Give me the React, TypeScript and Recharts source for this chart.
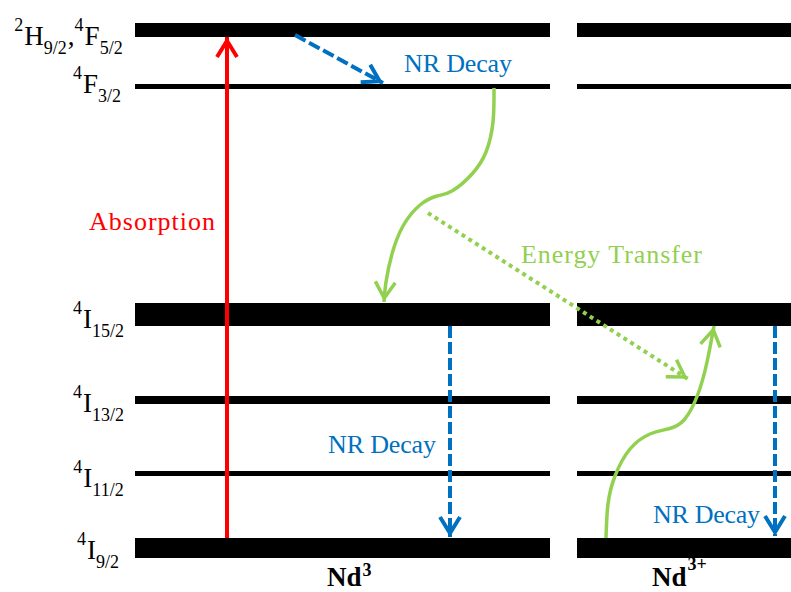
import React from 'react';
import { ComposedChart, XAxis, YAxis, Line, ReferenceDot } from 'recharts';

// ---------- data (diagram units: x across, y = energy, bottom of picture = 0) ----------
const levelLabelParts: [string, string][][] = [
  [['sup', '4'], ['main', 'I'], ['sub', '9/2']],
  [['sup', '4'], ['main', 'I'], ['sub', '11/2']],
  [['sup', '4'], ['main', 'I'], ['sub', '13/2']],
  [['sup', '4'], ['main', 'I'], ['sub', '15/2']],
  [['sup', '4'], ['main', 'F'], ['sub', '3/2']],
  [['sup', '2'], ['main', 'H'], ['sub', '9/2'], ['main', ','], ['sup', '4'], ['main', 'F'], ['sub', '5/2']],
];
const levelEnergy = [44, 118.5, 192, 277.5, 505.5, 562];

const ionNames = ['Nd', 'Nd'];
const ionCharges = ['3', '3+'];
const ionSpanStart = [135, 577];
const ionSpanEnd = [550, 791];

const absorption = [{ x: 227, y: 54 }, { x: 227, y: 555 }];
const nrDecayUpper = [{ x: 295, y: 557 }, { x: 383, y: 509 }];
const relaxation = [
  { x: 494, y: 504 }, { x: 493, y: 470 }, { x: 486, y: 440 }, { x: 472, y: 418 },
  { x: 452, y: 401 }, { x: 437, y: 396 }, { x: 420, y: 387 }, { x: 403, y: 366 },
  { x: 392, y: 338 }, { x: 386, y: 310 }, { x: 384, y: 290 },
];
const energyTransfer = [{ x: 428, y: 379 }, { x: 688, y: 213 }];
const nrDecayDonor = [{ x: 450, y: 266 }, { x: 450, y: 55 }];
const acceptorExcitation = [
  { x: 606, y: 54 }, { x: 608, y: 88 }, { x: 615, y: 116 }, { x: 630, y: 143 },
  { x: 650, y: 158 }, { x: 668, y: 163 }, { x: 684, y: 172 }, { x: 698, y: 198 },
  { x: 707, y: 230 }, { x: 714, y: 266 },
];
const nrDecayAcceptor = [{ x: 775, y: 266 }, { x: 775, y: 56 }];

const annotationText = ['Absorption', 'NR Decay', 'Energy Transfer', 'NR Decay', 'NR Decay'];

// ---------- layout & style ----------
const W = 791;
const H = 592;
const RED = '#FF0000';
const BLUE = '#0070C0';
const GREEN = '#92D050';
const FONT = "'Liberation Serif', 'Times New Roman', serif";

const levelThickness = [20, 5, 8, 23, 5, 14];
const labelCenterX = [98, 98.5, 98.5, 98.5, 97, 68.5];
const labelDrop = [11, 13.5, 12, 13.5, 6.5, 15];
const partShift: Record<string, number> = { sup: -14, main: 0, sub: 9 };
const partSize: Record<string, number> = { sup: 18, main: 27, sub: 18 };

const annotationX = [89, 404, 521, 328, 653];
const annotationY = [362, 520, 329, 139, 69];
const annotationWidth = [126, 108, 181, 108, 107];
const annotationColor = [RED, BLUE, GREEN, BLUE, BLUE];

const ionLabelX = [327, 652];
const ionLabelY = [6, 6];
const ionSupShift = [-10, -16];

function Chevron({ id, color, width }: { id: string; color: string; width: number }) {
  return (
    <marker
      id={id}
      markerUnits="userSpaceOnUse"
      markerWidth={1}
      markerHeight={1}
      refX={0}
      refY={0}
      orient="auto"
      style={{ overflow: 'visible' }}
    >
      <path
        d="M-20,-10 L-3.8,0 L-20,10"
        fill="none"
        stroke={color}
        strokeWidth={width}
        strokeLinejoin="miter"
        strokeLinecap="butt"
      />
    </marker>
  );
}

function levelLabelShape(i: number) {
  return (p: any) => {
    const parts = levelLabelParts[i];
    let prev = 0;
    return (
      <text
        x={labelCenterX[i]}
        y={p.cy + labelDrop[i]}
        textAnchor="middle"
        fontFamily={FONT}
        fill="#000"
      >
        {parts.map(([kind, t], k) => {
          const dy = partShift[kind] - prev;
          prev = partShift[kind];
          return (
            <tspan key={k} dy={dy} dx={kind === 'main' && k > 0 ? 1 : 0} fontSize={partSize[kind]}>
              {t}
            </tspan>
          );
        })}
      </text>
    );
  };
}

function annotationShape(i: number) {
  return (p: any) => (
    <text
      x={p.cx}
      y={p.cy}
      fontFamily={FONT}
      fontSize={26}
      fill={annotationColor[i]}
      textLength={annotationWidth[i]}
      lengthAdjust="spacing"
    >
      {annotationText[i]}
    </text>
  );
}

function ionShape(i: number) {
  return (p: any) => (
    <text x={p.cx} y={p.cy} fontFamily={FONT} fontWeight="bold" fill="#000">
      <tspan fontSize={27}>{ionNames[i]}</tspan>
      <tspan fontSize={18} dy={ionSupShift[i]} dx={1}>
        {ionCharges[i]}
      </tspan>
    </text>
  );
}

const common = {
  dataKey: 'y',
  dot: false,
  activeDot: false,
  isAnimationActive: false,
  legendType: 'none' as const,
  fill: 'none',
};

export default function App() {
  return (
    <div style={{ position: 'absolute', left: 0, top: 0, width: W, height: H, background: '#fff' }}>
      <ComposedChart width={W} height={H} margin={{ top: 0, right: 0, bottom: 0, left: 0 }}>
        <defs>
          <Chevron id="arrow-red" color={RED} width={4} />
          <Chevron id="arrow-blue" color={BLUE} width={4} />
          <Chevron id="arrow-green" color={GREEN} width={3.5} />
        </defs>
        <XAxis type="number" dataKey="x" domain={[0, W]} hide allowDataOverflow />
        <YAxis type="number" domain={[0, H]} hide allowDataOverflow />

        {ionSpanStart.map((x0, i) =>
          levelEnergy.map((e, j) => (
            <Line
              key={`lvl-${i}-${j}`}
              {...common}
              data={[{ x: x0, y: e }, { x: ionSpanEnd[i], y: e }]}
              type="linear"
              stroke="#000"
              strokeWidth={levelThickness[j]}
            />
          ))
        )}

        <Line {...common} data={absorption} type="linear" stroke={RED} strokeWidth={4} markerEnd="url(#arrow-red)" />
        <Line
          {...common}
          data={nrDecayUpper}
          type="linear"
          stroke={BLUE}
          strokeWidth={4}
          strokeDasharray="12 4"
          markerEnd="url(#arrow-blue)"
        />
        <Line {...common} data={relaxation} type="natural" stroke={GREEN} strokeWidth={3.5} markerEnd="url(#arrow-green)" />
        <Line
          {...common}
          data={energyTransfer}
          type="linear"
          stroke={GREEN}
          strokeWidth={4}
          strokeDasharray="4 4"
          markerEnd="url(#arrow-green)"
        />
        <Line
          {...common}
          data={nrDecayDonor}
          type="linear"
          stroke={BLUE}
          strokeWidth={4}
          strokeDasharray="12 4"
          markerEnd="url(#arrow-blue)"
        />
        <Line
          {...common}
          data={acceptorExcitation}
          type="natural"
          stroke={GREEN}
          strokeWidth={3.5}
          markerEnd="url(#arrow-green)"
        />
        <Line
          {...common}
          data={nrDecayAcceptor}
          type="linear"
          stroke={BLUE}
          strokeWidth={4}
          strokeDasharray="12 4"
          markerEnd="url(#arrow-blue)"
        />

        {levelEnergy.map((e, i) => (
          <ReferenceDot key={`lbl-${i}`} x={labelCenterX[i]} y={e} r={0} ifOverflow="visible" shape={levelLabelShape(i)} />
        ))}
        {annotationText.map((_, i) => (
          <ReferenceDot
            key={`ann-${i}`}
            x={annotationX[i]}
            y={annotationY[i]}
            r={0}
            ifOverflow="visible"
            shape={annotationShape(i)}
          />
        ))}
        {ionNames.map((_, i) => (
          <ReferenceDot key={`ion-${i}`} x={ionLabelX[i]} y={ionLabelY[i]} r={0} ifOverflow="visible" shape={ionShape(i)} />
        ))}
      </ComposedChart>
    </div>
  );
}
